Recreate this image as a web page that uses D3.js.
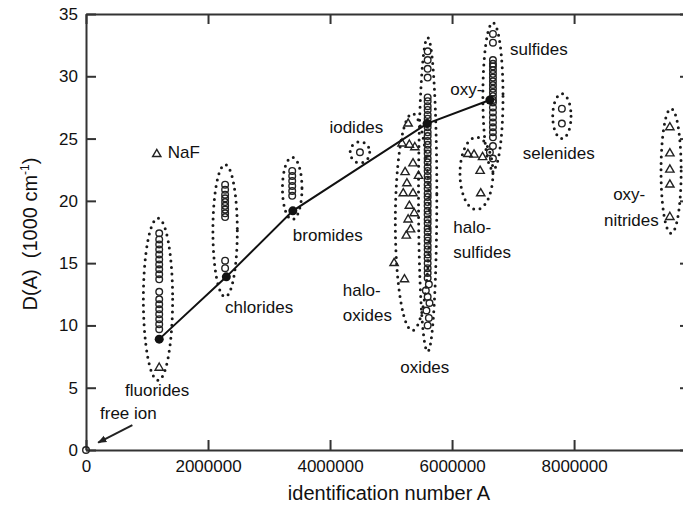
<!DOCTYPE html>
<html>
<head>
<meta charset="utf-8">
<script src="https://cdn.jsdelivr.net/npm/d3@7"></script>
<style>
  body { margin: 0; background: #fff; }
  svg text { font-family: "Liberation Sans", Arial, sans-serif; fill: #111; }
</style>
</head>
<body>
<svg id="chart" width="683" height="513"></svg>
<script>
// identification number A is kept in millions, D(A) in 1000 cm-1
const xTicks = [0, 2, 4, 6, 8];
const xTickLabels = ['0', '2000000', '4000000', '6000000', '8000000'];
const yTicks = [0, 5, 10, 15, 20, 25, 30, 35];

// averages per anion group, joined by the line
const trendA = [1.2, 2.3, 3.39, 5.59, 6.62];
const trendD = [8.9, 13.9, 19.2, 26.2, 28.1];

// open circles: [A, D]
const fluorides = [17.4, 16.9, 16.5, 16.1, 15.7, 15.3, 14.9, 14.5, 14.1, 13.7,
  12.7, 12.1, 11.7, 11.3, 10.9, 10.5, 10.1, 9.7].map(d => [1.2, d]);
const chlorides = [21.3, 20.9, 20.5, 20.2, 19.9, 19.6, 19.3, 19.0, 18.7, 15.2, 14.6]
  .map(d => [2.28, d]);
const bromides = [22.4, 22.0, 21.6, 21.2, 20.8, 20.4].map(d => [3.38, d]);
const iodides = [[4.49, 23.9]];
const oxides = [
  [5.6, 32.0], [5.6, 31.3], [5.6, 30.6], [5.6, 29.9],
  [5.6, 28.3], [5.6, 28.0], [5.6, 27.6], [5.6, 27.3], [5.6, 26.9], [5.6, 26.6],
  [5.6, 26.2], [5.6, 25.9], [5.6, 25.5], [5.6, 25.2], [5.6, 24.8], [5.6, 24.5],
  [5.6, 24.1], [5.6, 23.8], [5.6, 23.4], [5.6, 23.1], [5.6, 22.7], [5.6, 22.4],
  [5.6, 22.0], [5.6, 21.7], [5.6, 21.3], [5.6, 21.0], [5.6, 20.6], [5.6, 20.3],
  [5.6, 19.9], [5.6, 19.6], [5.6, 19.2], [5.6, 18.9], [5.6, 18.5], [5.6, 18.2],
  [5.6, 17.8], [5.6, 17.5], [5.6, 17.1], [5.6, 16.8], [5.6, 16.4], [5.6, 16.1],
  [5.6, 15.7], [5.6, 15.4], [5.6, 15.0], [5.6, 14.6], [5.6, 14.2], [5.6, 13.8],
  [5.62, 13.3], [5.57, 12.8], [5.6, 12.3], [5.63, 11.8], [5.58, 11.2],
  [5.62, 10.6], [5.6, 10.0]
];
const sulfides = [
  [6.67, 33.4], [6.67, 32.7], [6.67, 31.3], [6.67, 31.0], [6.67, 30.8], [6.67, 30.5],
  [6.67, 30.2], [6.67, 29.9], [6.67, 29.6], [6.67, 29.3], [6.67, 29.0], [6.67, 28.7],
  [6.67, 28.4], [6.67, 28.1], [6.67, 27.9], [6.67, 27.5], [6.67, 27.1], [6.67, 26.7],
  [6.67, 26.3], [6.67, 25.9], [6.67, 25.5], [6.67, 25.1], [6.67, 24.4], [6.62, 23.9],
  [6.67, 23.4]
];
const selenides = [[7.8, 27.4], [7.8, 26.2]];
const freeIon = [[0, 0]];

// open triangles: [A, D]
const naF = [[1.16, 23.75]];
const fluorideTri = [[1.2, 6.6]];
const haloOxides = [
  [5.28, 26.2], [5.18, 24.6], [5.3, 24.5], [5.39, 24.3], [5.36, 23.0], [5.23, 22.3],
  [5.45, 22.0], [5.26, 21.4], [5.2, 20.6], [5.36, 20.6], [5.3, 19.6], [5.38, 19.0],
  [5.28, 18.5], [5.32, 17.7], [5.25, 17.2], [5.05, 15.0], [5.22, 13.7]
];
const haloSulfides = [[6.26, 23.75], [6.36, 23.7], [6.5, 23.5], [6.46, 22.4], [6.47, 20.6]];
const oxyNitrides = [25.9, 23.8, 22.5, 21.3, 18.7].map(d => [9.57, d]);

// dotted group outlines: [centre A, centre D, half width A, half height D]
const groupOutlines = [
  [1.18, 12.1, 0.24, 6.5],
  [2.28, 17.6, 0.2, 5.3],
  [3.38, 21.0, 0.16, 2.5],
  [4.49, 23.9, 0.16, 0.85],
  [5.35, 18.3, 0.28, 8.7],
  [5.6, 20.5, 0.15, 12.6],
  [6.67, 28.4, 0.165, 5.9],
  [6.4, 22.2, 0.27, 2.9],
  [7.8, 26.8, 0.15, 1.8],
  [9.59, 22.4, 0.165, 5.0]
];

// text labels: [text lines, A, D of first baseline]
const groupLabels = [
  [['NaF'], 1.34, 23.45],
  [['fluorides'], 0.64, 4.35],
  [['free ion'], 0.23, 2.5],
  [['chlorides'], 2.28, 11.0],
  [['bromides'], 3.39, 16.8],
  [['iodides'], 3.99, 25.45],
  [['halo-', 'oxides'], 4.21, 12.35],
  [['oxides'], 5.15, 6.2],
  [['oxy-'], 5.97, 28.5],
  [['sulfides'], 6.95, 31.7],
  [['selenides'], 7.16, 23.4],
  [['halo-', 'sulfides'], 6.02, 17.4],
  [['oxy-'], 8.64, 20.1],
  [['nitrides'], 8.49, 18.0]
];

const svg = d3.select('#chart');
const margin = { left: 86, right: 690, top: 14, bottom: 450 };

const x = d3.scaleLinear().domain([0, 9.9]).range([margin.left, margin.right]);
const y = d3.scaleLinear().domain([0, 35]).range([margin.bottom, margin.top]);

// dotted outlines
svg.append('g')
  .selectAll('ellipse')
  .data(groupOutlines)
  .enter()
  .append('ellipse')
  .attr('cx', d => x(d[0]))
  .attr('cy', d => y(d[1]))
  .attr('rx', d => x(d[0] + d[2]) - x(d[0]))
  .attr('ry', d => y(d[1] - d[3]) - y(d[1]))
  .style('fill', 'none')
  .style('stroke', '#1a1a1a')
  .style('stroke-width', 3)
  .style('stroke-linecap', 'round')
  .style('stroke-dasharray', '0 6.5');

// axes: ticks point inward on all four sides
const axisColor = '#333';
function styleAxis(g) {
  g.select('.domain').style('stroke', axisColor).style('stroke-width', 2);
  g.selectAll('.tick line').style('stroke', axisColor).style('stroke-width', 2);
  g.selectAll('.tick text')
    .style('font-size', '17px')
    .style('font-family', '"Liberation Sans", Arial, sans-serif')
    .style('fill', '#111');
}

svg.append('g')
  .attr('transform', `translate(0,${margin.bottom})`)
  .call(d3.axisBottom(x).tickValues(xTicks).tickFormat((d, i) => xTickLabels[i])
    .tickSize(-10).tickSizeOuter(0).tickPadding(10))
  .call(styleAxis);

svg.append('g')
  .attr('transform', `translate(0,${margin.top})`)
  .call(d3.axisTop(x).tickValues(xTicks).tickFormat('')
    .tickSize(-10).tickSizeOuter(0))
  .call(styleAxis);

svg.append('g')
  .attr('transform', `translate(${margin.left},0)`)
  .call(d3.axisLeft(y).tickValues(yTicks).tickSize(-10).tickSizeOuter(0).tickPadding(8))
  .call(styleAxis);

svg.append('g')
  .attr('transform', `translate(${margin.right},0)`)
  .call(d3.axisRight(y).tickValues(yTicks).tickFormat('')
    .tickSize(-10).tickSizeOuter(0))
  .call(styleAxis);

// open circles
const circles = [].concat(fluorides, chlorides, bromides, iodides, oxides,
  sulfides, selenides, freeIon);
svg.append('g')
  .selectAll('circle')
  .data(circles)
  .enter()
  .append('circle')
  .attr('cx', d => x(d[0]))
  .attr('cy', d => y(d[1]))
  .attr('r', 3.3)
  .style('fill', 'none')
  .style('stroke', '#222')
  .style('stroke-width', 1.4);

// open triangles
const triangles = [].concat(naF, fluorideTri, haloOxides, haloSulfides, oxyNitrides);
const tri = d3.symbol().type(d3.symbolTriangle).size(30);
svg.append('g')
  .selectAll('path')
  .data(triangles)
  .enter()
  .append('path')
  .attr('d', tri)
  .attr('transform', d => `translate(${x(d[0])},${y(d[1])})`)
  .style('fill', 'none')
  .style('stroke', '#222')
  .style('stroke-width', 1.4);

// trend line with filled group averages
const line = d3.line().x(d => x(d[0])).y(d => y(d[1]));
const trend = trendA.map((a, i) => [a, trendD[i]]);
svg.append('path')
  .datum(trend)
  .attr('d', line)
  .style('fill', 'none')
  .style('stroke', '#111')
  .style('stroke-width', 2);

svg.append('g')
  .selectAll('circle')
  .data(trend)
  .enter()
  .append('circle')
  .attr('cx', d => x(d[0]))
  .attr('cy', d => y(d[1]))
  .attr('r', 4.5)
  .style('fill', '#111');

// arrow from "free ion" to the origin
svg.append('defs')
  .append('marker')
  .attr('id', 'head')
  .attr('viewBox', '0 0 10 10')
  .attr('refX', 9)
  .attr('refY', 5)
  .attr('markerWidth', 9)
  .attr('markerHeight', 9)
  .attr('markerUnits', 'userSpaceOnUse')
  .attr('orient', 'auto')
  .append('path')
  .attr('d', 'M0,1L10,5L0,9z')
  .style('fill', '#222');

svg.append('line')
  .attr('x1', x(0.76))
  .attr('y1', y(2.0))
  .attr('x2', x(0.2))
  .attr('y2', y(0.6))
  .attr('marker-end', 'url(#head)')
  .style('stroke', '#222')
  .style('stroke-width', 2);

// group labels
const labels = svg.append('g')
  .selectAll('text')
  .data(groupLabels)
  .enter()
  .append('text')
  .attr('x', d => x(d[1]))
  .attr('y', d => y(d[2]))
  .style('font-size', '17px');
labels.selectAll('tspan')
  .data(d => d[0].map(t => [t, d[1]]))
  .enter()
  .append('tspan')
  .attr('x', d => x(d[1]))
  .attr('dy', (d, i) => (i ? 25 : 0))
  .text(d => d[0]);

// axis titles
svg.append('text')
  .attr('x', 389)
  .attr('y', 500)
  .attr('text-anchor', 'middle')
  .style('font-size', '20px')
  .text('identification number A');

const yTitle = svg.append('text')
  .attr('transform', 'translate(37,234) rotate(-90)')
  .attr('text-anchor', 'middle')
  .style('font-size', '20px');
yTitle.append('tspan').text('D(A)\u00a0\u00a0(1000 cm');
yTitle.append('tspan').attr('dy', -8).style('font-size', '12px').text('-1');
yTitle.append('tspan').attr('dy', 8).text(')');
</script>
</body>
</html>
